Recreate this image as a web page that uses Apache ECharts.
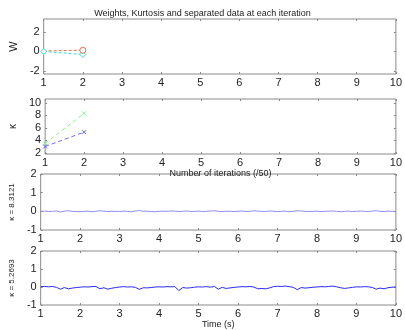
<!DOCTYPE html>
<html><head><meta charset="utf-8">
<script src="https://cdn.jsdelivr.net/npm/echarts@6/dist/echarts.min.js"></script>
<style>html,body{margin:0;padding:0;background:#fff}#c{width:405px;height:330px}</style>
</head><body><div id="c"></div>
<script>
// ---- data ----
var iterX = [1, 2];
var wRed = [0.05, 0.12];
var wCyan = [0.0, -0.32];
var kGreen = [3.5, 8.3];
var kBlue = [3.0, 5.3];
var timeStart = 1, timeStep = 0.1;
var sig1 = [0.0,0.01,-0.01,0.0,0.02,-0.03,0.01,0.03,0.0,-0.01,
  -0.02,0.0,0.01,-0.02,0.0,0.03,0.01,-0.01,0.0,0.0,
  -0.01,0.01,0.0,-0.02,0.02,0.04,0.0,0.01,-0.01,-0.02,
  0.0,0.01,0.0,0.02,0.01,-0.01,0.0,0.02,-0.01,0.0,
  0.01,-0.01,0.0,0.02,0.03,0.0,-0.02,0.01,0.0,-0.01,
  0.0,0.02,-0.01,0.0,0.03,0.01,0.0,-0.01,0.02,0.0,
  -0.01,0.0,0.01,-0.02,0.0,0.03,0.02,0.0,-0.01,0.0,
  0.01,-0.01,0.0,0.01,0.02,0.0,-0.02,0.0,0.01,-0.01,
  0.0,0.02,0.0,-0.01,0.01,0.03,0.0,-0.01,0.01,0.0,0.0];
var sig2 = [0.02,0.03,0.01,0.03,-0.02,-0.12,-0.03,-0.1,-0.06,-0.03,
  -0.01,0.01,0.0,0.02,0.03,-0.1,-0.04,-0.12,-0.07,-0.03,
  0.0,0.02,0.0,0.01,-0.02,-0.13,-0.04,-0.05,-0.03,0.0,
  0.01,0.0,0.02,0.01,0.02,-0.2,-0.03,-0.06,-0.04,-0.01,
  0.01,0.0,0.02,-0.01,0.03,-0.12,-0.02,-0.08,-0.05,-0.02,
  0.0,0.02,0.01,0.03,0.0,-0.1,-0.08,-0.1,-0.05,0.02,
  0.04,0.03,0.05,0.02,-0.02,-0.15,-0.03,-0.06,-0.04,-0.01,
  0.0,0.02,0.01,0.03,0.05,0.01,-0.04,-0.08,-0.05,-0.02,
  0.01,0.0,0.02,0.01,-0.02,-0.12,-0.06,-0.1,-0.04,-0.01,0.0];
var xTicks = [1,2,3,4,5,6,7,8,9,10];
var wTicks = [-2, 0, 2];
var kTicks = [2, 4, 6, 8, 10];
var sTicks = [-1, 0, 1, 2];

function pairs(xs, ys){ return ys.map(function(v,i){ return [xs[i], v]; }); }
function timePairs(ys){ return ys.map(function(v,i){ return [+(timeStart + i*timeStep).toFixed(2), v]; }); }

var FONT = 'Liberation Sans';
var grids = [
  {left:32, right:8, top:19, height:55},
  {left:32, right:8, top:99, height:55},
  {left:32, right:8, top:174, height:56},
  {left:32, right:8, top:251, height:56}
];
grids.forEach(function(g){ g.show = true; g.borderColor = '#8a8a8a'; g.borderWidth = 1; g.backgroundColor = '#fff'; });

var xAxes = [], yAxes = [];
var yCfg = [
  {min:-2.3, max:3.3, ticks:wTicks, name:'W', gap:20, size:11},
  {min:1.8, max:10.6, ticks:kTicks, name:'κ', gap:21, size:10},
  {min:-1, max:2, ticks:sTicks, name:'κ = 8.3121', gap:21, size:8},
  {min:-1, max:2, ticks:sTicks, name:'κ = 5.2693', gap:21, size:8}
];
var xNames = ['', 'Number of iterations (/50)', '', 'Time (s)'];
var tickStyle = {color:'#888'};
for (var i=0;i<4;i++){
  xAxes.push({type:'value', gridIndex:i, min:1, max:10, position:'bottom',
    axisLine:{show:false, onZero:false}, splitLine:{show:false},
    axisTick:{show:true, inside:true, length:2, lineStyle:tickStyle, customValues:xTicks},
    axisLabel:{show:true, color:'#222', fontFamily:FONT, fontSize:11, margin:3, customValues:xTicks},
    name:xNames[i], nameLocation:'middle', nameGap:15,
    nameTextStyle:{color:'#222', fontFamily:FONT, fontSize:9}});
  xAxes.push({type:'value', gridIndex:i, min:1, max:10, position:'top',
    axisLine:{show:false, onZero:false}, splitLine:{show:false}, axisLabel:{show:false},
    axisTick:{show:true, inside:true, length:2, lineStyle:tickStyle, customValues:xTicks}});
  var c = yCfg[i];
  yAxes.push({type:'value', gridIndex:i, min:c.min, max:c.max, position:'left',
    axisLine:{show:false, onZero:false}, splitLine:{show:false},
    axisTick:{show:true, inside:true, length:2, lineStyle:tickStyle, customValues:c.ticks},
    axisLabel:{show:true, color:'#222', fontFamily:FONT, fontSize:11, margin:4, customValues:c.ticks},
    name:c.name, nameLocation:'middle', nameRotate:90, nameGap:c.gap,
    nameTextStyle:{color:'#222', fontFamily:FONT, fontSize:c.size}});
  yAxes.push({type:'value', gridIndex:i, min:c.min, max:c.max, position:'right',
    axisLine:{show:false, onZero:false}, splitLine:{show:false}, axisLabel:{show:false},
    axisTick:{show:true, inside:true, length:2, lineStyle:tickStyle, customValues:c.ticks}});
}

var xMark = 'path://M0,0L10,10M10,0L0,10';
var redData = pairs(iterX, wRed);
redData[0] = {value: redData[0], symbol:'none'};
var series = [
  {type:'line', xAxisIndex:0, yAxisIndex:0, data:pairs(iterX, wCyan), symbol:'diamond', symbolSize:6,
    lineStyle:{color:'#33dddd', width:1, type:[3,2]}, itemStyle:{color:'#fff', borderColor:'#33dddd', borderWidth:1}},
  {type:'line', xAxisIndex:0, yAxisIndex:0, data:redData, symbol:'circle', symbolSize:6,
    lineStyle:{color:'#e07a50', width:1, type:[3,2]}, itemStyle:{color:'#fff', borderColor:'#e07a50', borderWidth:1}},
  {type:'line', xAxisIndex:2, yAxisIndex:2, data:pairs(iterX, kGreen), symbol:xMark, symbolSize:4,
    lineStyle:{color:'#88ee88', width:1, type:[4,3]}, itemStyle:{color:'none', borderColor:'#88ee88', borderWidth:1}},
  {type:'line', xAxisIndex:2, yAxisIndex:2, data:pairs(iterX, kBlue), symbol:xMark, symbolSize:4,
    lineStyle:{color:'#6a6aff', width:1, type:[4,3]}, itemStyle:{color:'none', borderColor:'#6a6aff', borderWidth:1}},
  {type:'line', xAxisIndex:4, yAxisIndex:4, data:timePairs(sig1), showSymbol:false,
    lineStyle:{color:'#8c8cff', width:1}},
  {type:'line', xAxisIndex:6, yAxisIndex:6, data:timePairs(sig2), showSymbol:false,
    lineStyle:{color:'#2a2aff', width:1}}
];

var chart = echarts.init(document.getElementById('c'), null, {renderer:'canvas'});
chart.setOption({
  animation:false,
  backgroundColor:'#fff',
  title:{text:'Weights, Kurtosis and separated data at each iteration', left:'center', top:4,
    textStyle:{fontFamily:FONT, fontSize:9, fontWeight:'normal', color:'#222'}},
  grid:grids, xAxis:xAxes, yAxis:yAxes, series:series
});
</script></body></html>
